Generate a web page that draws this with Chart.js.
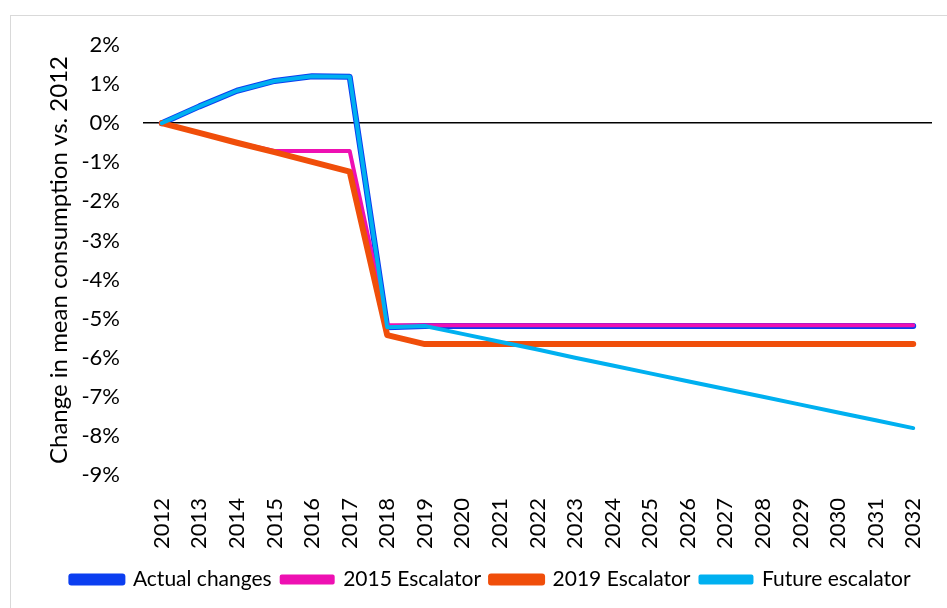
<!DOCTYPE html>
<html>
<head>
  <meta charset="UTF-8">
  <title>Change in mean consumption</title>
  <script src="https://cdn.jsdelivr.net/npm/chart.js"></script>
  <style>
    body { margin: 0; background: #fff; overflow: hidden; }
    #frame { position: absolute; left: 10px; top: 15px; width: 960px; height: 620px; border: 1.5px solid #d9d9d9; }
    #wrap { position: absolute; left: 0; top: 0; width: 947px; height: 608px; }
  </style>
</head>
<body>
  <div id="frame"></div>
  <div id="wrap"><canvas id="chart"></canvas></div>

  <script>
    const years = ['2012','2013','2014','2015','2016','2017','2018','2019','2020','2021','2022',
                   '2023','2024','2025','2026','2027','2028','2029','2030','2031','2032'];
    const actualChanges = [0, 0.43, 0.83, 1.08, 1.2, 1.19, -5.22, -5.19, -5.19, -5.19, -5.19,
                           -5.19, -5.19, -5.19, -5.19, -5.19, -5.19, -5.19, -5.19, -5.19, -5.19];
    const escalator2015 = [0, -0.25, -0.5, -0.71, -0.71, -0.71, -5.17, -5.17, -5.17, -5.17, -5.17,
                           -5.17, -5.17, -5.17, -5.17, -5.17, -5.17, -5.17, -5.17, -5.17, -5.17];
    const escalator2019 = [0, -0.25, -0.5, -0.74, -0.99, -1.24, -5.42, -5.65, -5.65, -5.65, -5.65,
                           -5.65, -5.65, -5.65, -5.65, -5.65, -5.65, -5.65, -5.65, -5.65, -5.65];
    const futureEscalator = [0, 0.43, 0.83, 1.08, 1.2, 1.19, -5.22, -5.19, -5.39, -5.59, -5.79,
                             -6.0, -6.2, -6.4, -6.6, -6.8, -7.0, -7.2, -7.4, -7.6, -7.8];

    const font = "Lato, 'Open Sans', sans-serif";

    function line(label, data, color, width, order) {
      return {
        label: label, data: data, borderColor: color, backgroundColor: color,
        borderWidth: width, pointRadius: 0, tension: 0, order: order,
        borderJoinStyle: 'round', borderCapStyle: 'round'
      };
    }

    // legend sits a little right of the canvas centre in the original
    const shiftLegend = {
      id: 'shiftLegend',
      afterLayout: chart => { chart.legend.left = 50; }
    };

    new Chart(document.getElementById('chart'), {
      type: 'line',
      data: {
        labels: years,
        datasets: [
          line('Actual changes', actualChanges, '#0b3ef0', 6, 4),
          line('2015 Escalator', escalator2015, '#ee10b2', 4, 3),
          line('2019 Escalator', escalator2019, '#f04e0a', 6, 2),
          line('Future escalator', futureEscalator, '#00b0f0', 4, 1)
        ]
      },
      plugins: [shiftLegend],
      options: {
        responsive: true,
        maintainAspectRatio: false,
        animation: false,
        layout: { padding: { left: 10, top: 45, right: 15, bottom: 8 } },
        plugins: {
          tooltip: { enabled: false },
          legend: {
            position: 'bottom',
            labels: {
              color: '#000',
              font: { family: font, size: 21 },
              boxWidth: 51, boxHeight: 6, padding: 10,
              sort: (a, b) => a.datasetIndex - b.datasetIndex
            }
          }
        },
        scales: {
          x: {
            offset: true,
            grid: { display: false },
            border: { display: false },
            ticks: {
              color: '#000', font: { family: font, size: 22 },
              minRotation: 90, maxRotation: 90, padding: 15, autoSkip: false
            },
            afterFit: s => { s.height = 84; s.paddingLeft = 0; s.paddingRight = 0; }
          },
          y: {
            min: -9, max: 2,
            border: { display: false },
            grid: {
              drawTicks: false,
              lineWidth: 1.5,
              color: c => c.tick && c.tick.value === 0 ? '#000' : 'rgba(0,0,0,0)'
            },
            ticks: {
              stepSize: 1, padding: 23, color: '#000',
              font: { family: font, size: 22 },
              callback: v => v + '%'
            },
            title: {
              display: true, text: 'Change in mean consumption vs. 2012',
              color: '#000', font: { family: font, size: 24 },
              padding: { top: 35, bottom: 0 }
            },
            afterFit: s => { s.width = 133; }
          }
        }
      }
    });
  </script>
</body>
</html>
